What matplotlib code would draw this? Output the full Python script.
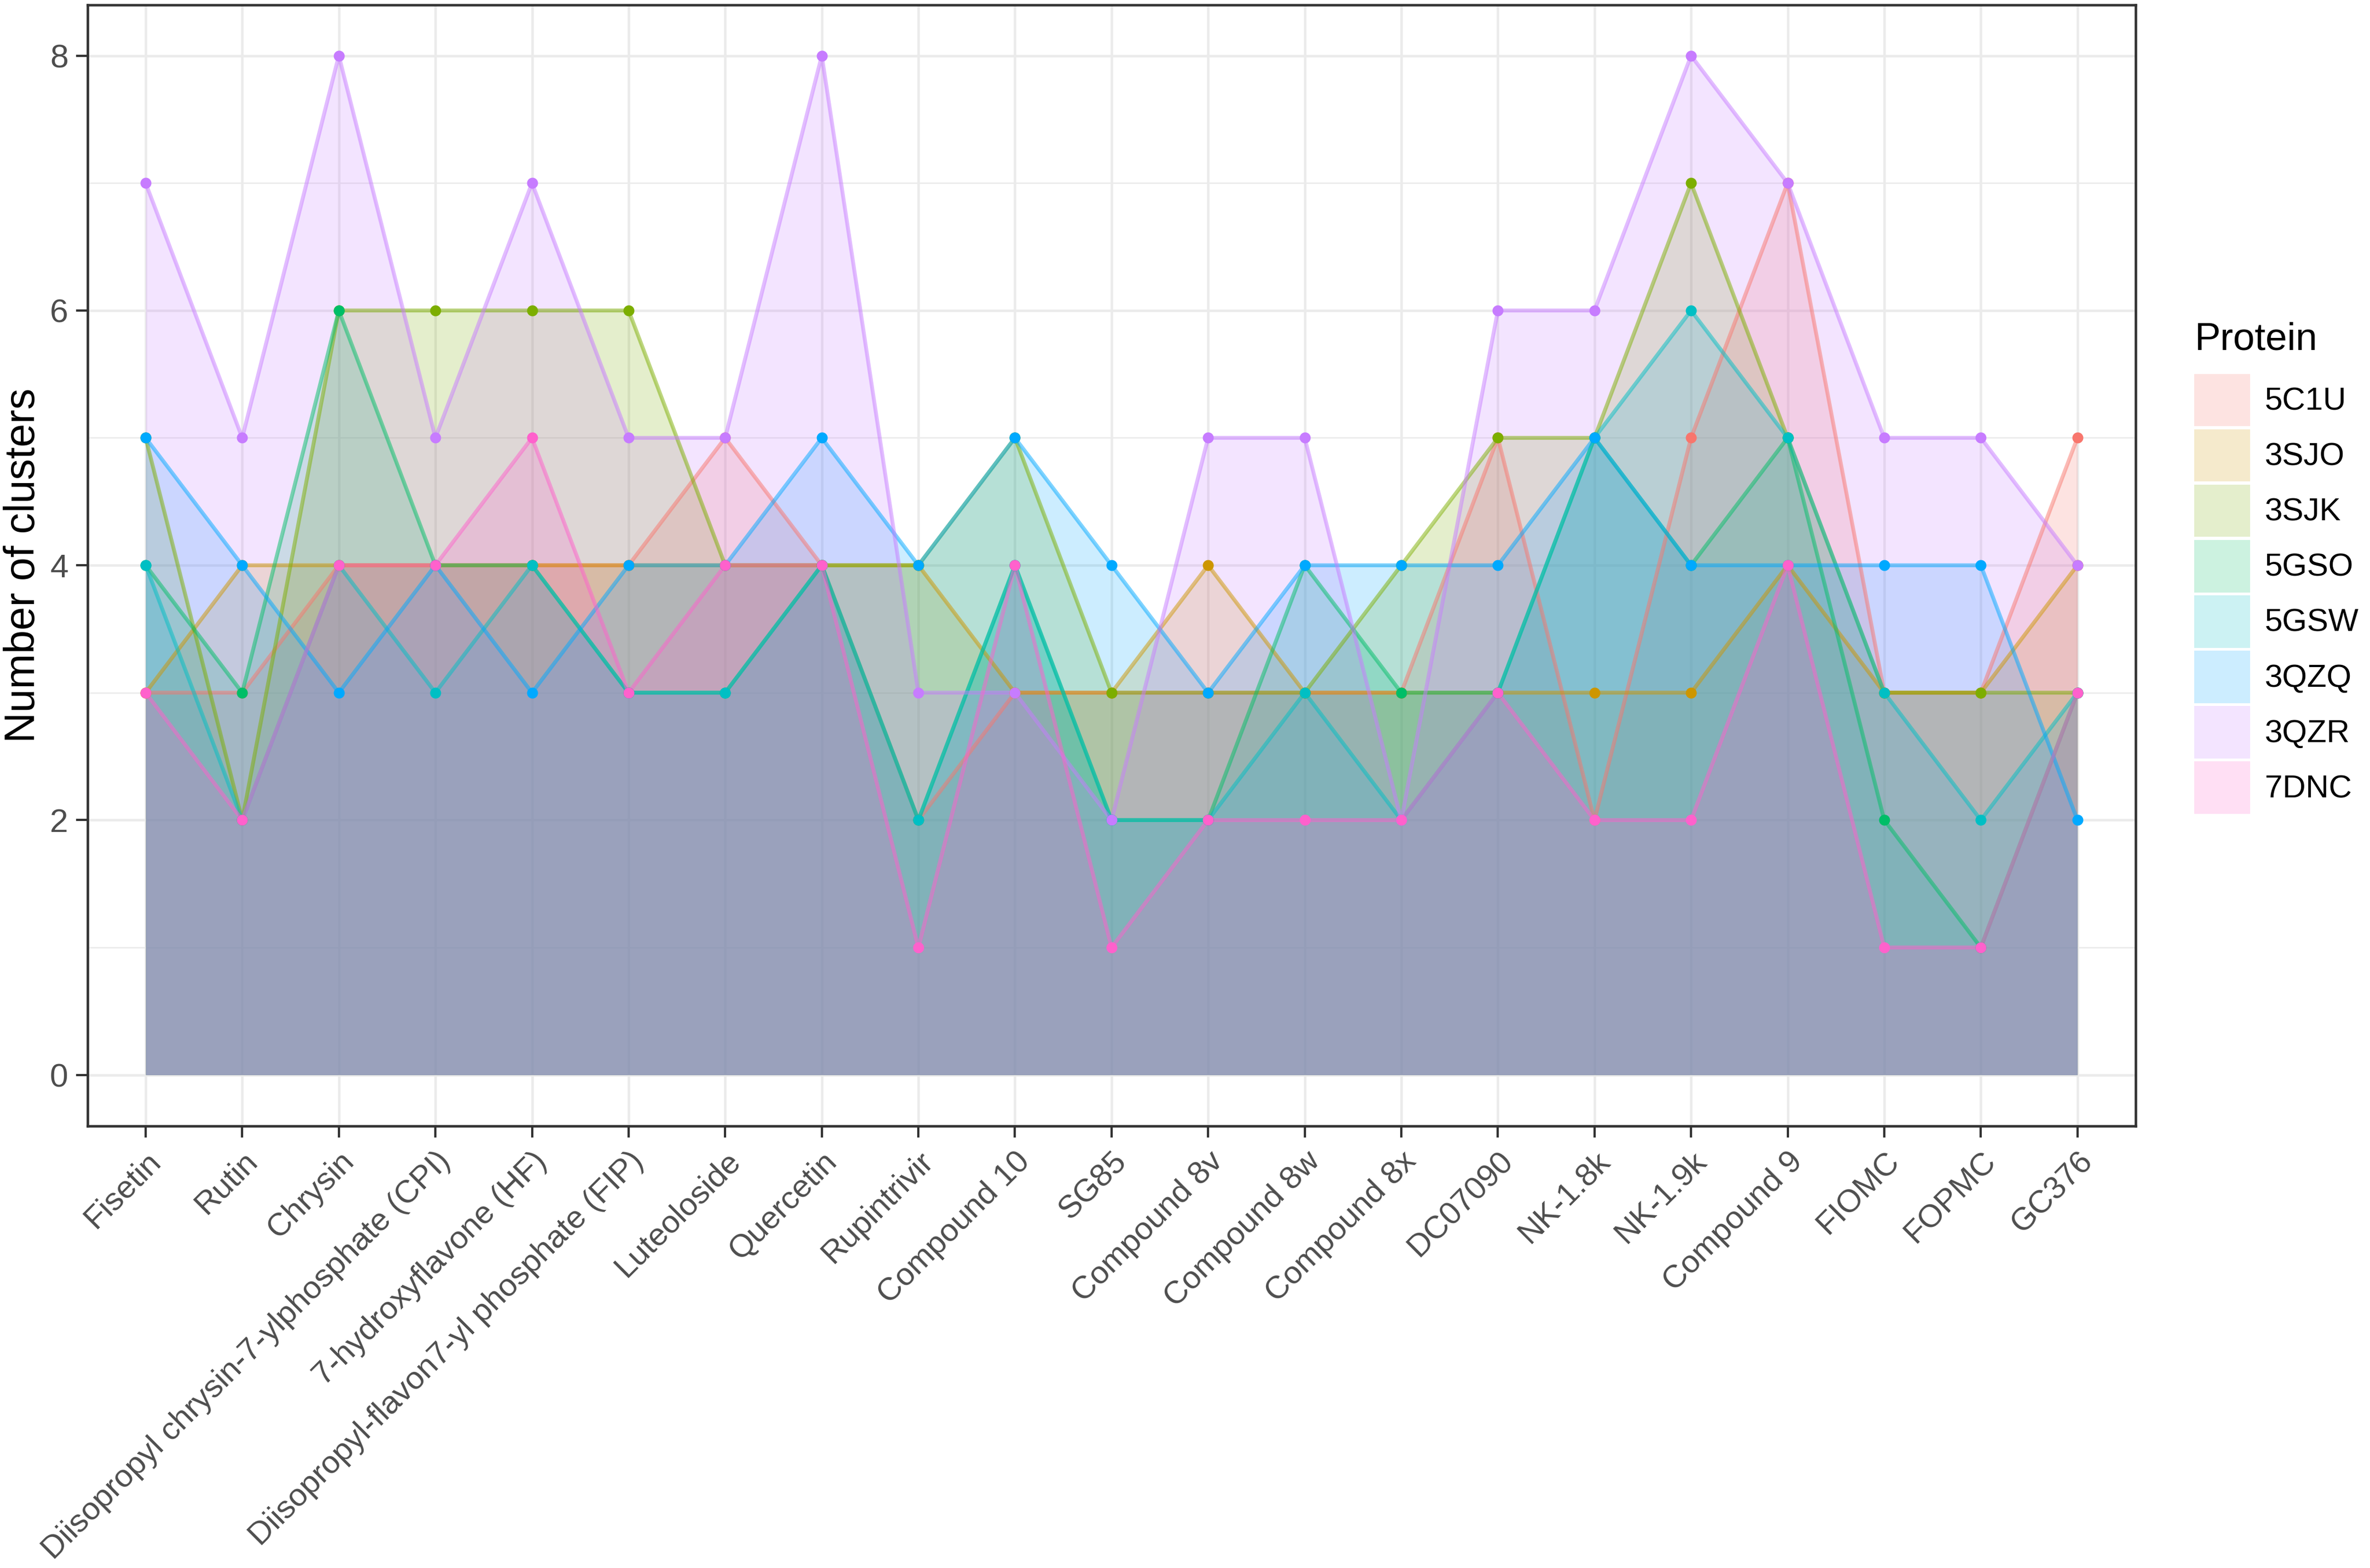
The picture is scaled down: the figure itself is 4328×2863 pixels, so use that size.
import numpy as np
import matplotlib
matplotlib.use("Agg")
import matplotlib.pyplot as plt
from matplotlib.patches import Patch

plt.rcParams['font.family'] = ['Liberation Sans', 'DejaVu Sans']

# --- data ---
compounds = [
    "Fisetin", "Rutin", "Chrysin", "Diisopropyl chrysin-7-ylphosphate (CPI)",
    "7-hydroxyflavone (HF)", "Diisopropyl-flavon7-yl phosphate (FIP)",
    "Luteoloside", "Quercetin", "Rupintrivir", "Compound 10", "SG85",
    "Compound 8v", "Compound 8w", "Compound 8x", "DC07090", "NK-1.8k",
    "NK-1.9k", "Compound 9", "FIOMC", "FOPMC", "GC376",
]

proteins = ["5C1U", "3SJO", "3SJK", "5GSO", "5GSW", "3QZQ", "3QZR", "7DNC"]

c_5C1U = [3, 3, 4, 4, 4, 4, 5, 4, 2, 3, 3, 3, 3, 3, 5, 2, 5, 7, 3, 3, 5]
c_3SJO = [3, 4, 4, 4, 4, 4, 4, 4, 4, 3, 3, 4, 3, 3, 3, 3, 3, 4, 3, 3, 4]
c_3SJK = [5, 2, 6, 6, 6, 6, 4, 4, 4, 5, 3, 3, 3, 4, 5, 5, 7, 5, 3, 3, 3]
c_5GSO = [4, 3, 6, 4, 4, 3, 3, 4, 2, 4, 2, 2, 4, 3, 3, 5, 4, 5, 2, 1, 3]
c_5GSW = [4, 2, 4, 3, 4, 3, 3, 4, 2, 4, 2, 2, 3, 2, 3, 5, 6, 5, 3, 2, 3]
c_3QZQ = [5, 4, 3, 4, 3, 4, 4, 5, 4, 5, 4, 3, 4, 4, 4, 5, 4, 4, 4, 4, 2]
c_3QZR = [7, 5, 8, 5, 7, 5, 5, 8, 3, 3, 2, 5, 5, 2, 6, 6, 8, 7, 5, 5, 4]
c_7DNC = [3, 2, 4, 4, 5, 3, 4, 4, 1, 4, 1, 2, 2, 2, 3, 2, 2, 4, 1, 1, 3]

series = [c_5C1U, c_3SJO, c_3SJK, c_5GSO, c_5GSW, c_3QZQ, c_3QZR, c_7DNC]

# ggplot default hue palette for 8 groups
colors = ['#F8766D', '#CD9600', '#7CAE00', '#00BE67',
          '#00BFC4', '#00A9FF', '#C77CFF', '#FF61CC']

fig = plt.figure(figsize=(4328 / 300, 2863 / 300), dpi=300)
ax = fig.add_axes([0.037, 0.282, 0.864, 0.715])

x = np.arange(len(compounds))

# areas first, then lines, then points (same as ggplot layer order)
for vals, col in zip(series, colors):
    ax.fill_between(x, 0, vals, color=col, alpha=0.2, linewidth=0, zorder=2)
for vals, col in zip(series, colors):
    ax.plot(x, vals, color=col, alpha=0.5, linewidth=1.7, zorder=3)
for vals, col in zip(series, colors):
    ax.plot(x, vals, linestyle='none', marker='o', markersize=4.8,
            color=col, markeredgewidth=0, zorder=4)

ax.set_xlim(-0.6, len(compounds) - 1 + 0.6)
ax.set_ylim(-0.4, 8.4)
ax.set_xticks(x)
ax.set_xticklabels(compounds, rotation=45, ha='right', va='top',
                   rotation_mode='anchor', fontsize=14, color='#4D4D4D')
ax.set_yticks([0, 2, 4, 6, 8])
ax.set_yticks([1, 3, 5, 7], minor=True)
ax.tick_params(axis='y', which='major', labelsize=14.5, labelcolor='#4D4D4D',
               length=5, width=1.0, color='#333333')
ax.tick_params(axis='y', which='minor', length=0)
ax.tick_params(axis='x', length=5, width=1.0, color='#333333', pad=4)
ax.set_ylabel("Number of clusters", fontsize=18.5, labelpad=3)

ax.grid(True, which='major', color='#EBEBEB', linewidth=1.1, zorder=0)
ax.grid(True, which='minor', axis='y', color='#EBEBEB', linewidth=0.6, zorder=0)
ax.set_axisbelow(True)
for sp in ax.spines.values():
    sp.set_color('#333333')
    sp.set_linewidth(1.1)

handles = [Patch(facecolor=col, alpha=0.2, edgecolor='none') for col in colors]
leg = fig.legend(handles, proteins, title="Protein", loc='upper left',
                 bbox_to_anchor=(0.9205, 0.803), frameon=False, fontsize=14,
                 title_fontsize=17, handlelength=1.75, handleheight=2.15,
                 labelspacing=0.09, handletextpad=0.45, alignment='left',
                 borderaxespad=0)
# a bit more room between the title and the keys, like ggplot
leg._legend_box.sep = 7

fig.savefig("out.png", dpi=300)
